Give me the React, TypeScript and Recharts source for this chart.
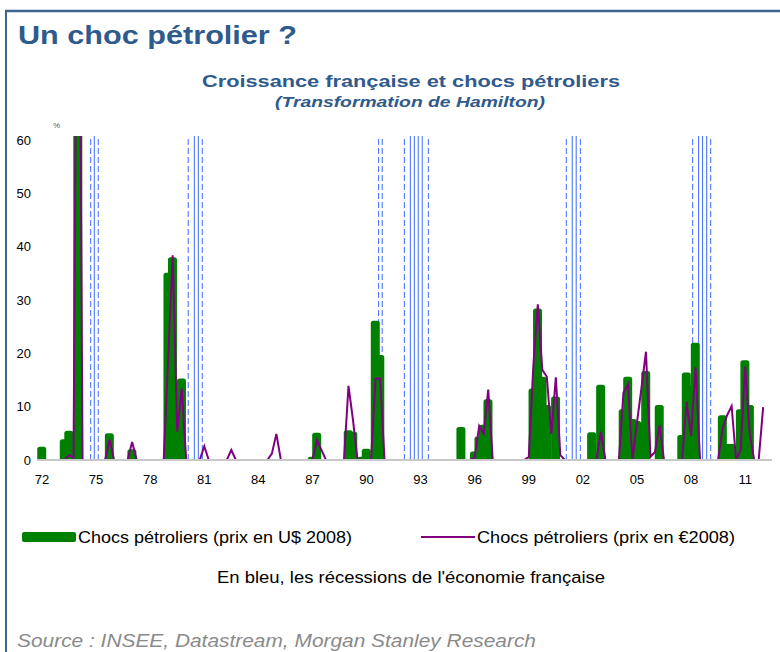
import React from "react";
import { ComposedChart, Bar, Line, XAxis, YAxis, ReferenceLine } from "recharts";

const startYear = 1972;

// Chocs pétroliers (prix en U$ 2008), trimestriel 1972T1 - 2012T1
const usdShocks = [
  2.5, 0, 0, 0, 0, 3.9, 5.5, 0, // 72-73
  80, 0, 0, 0, 0, 0, 0, 5.0, // 74-75
  0, 0, 0, 0, 2.0, 0, 0, 0, // 76-77
  0, 0, 0, 0, 35.1, 38.0, 10, 15.3, // 78-79
  0, 0, 0, 0, 0, 0, 0, 0, // 80-81
  0, 0, 0, 0, 0, 0, 0, 0, // 82-83
  0, 0, 0, 0, 0, 0, 0, 0, // 84-85
  0, 0, 0, 0, 0.6, 5.1, 0, 0, // 86-87
  0, 0, 0, 0, 5.6, 5.3, 0, 0.6, // 88-89
  2.1, 0, 26.1, 19.7, 0, 0, 0, 0, // 90-91
  0, 0, 0, 0, 0, 0, 0, 0, // 92-93
  0, 0, 0, 0, 0, 6.2, 0, 0, // 94-95
  1.6, 4.4, 6.6, 11.4, 0, 0, 0, 0, // 96-97
  0, 0, 0, 0, 0, 13.4, 28.4, 15.6, // 98-99
  10.3, 0, 11.9, 0, 0, 0, 0, 0, // 00-01
  0, 0, 5.2, 0, 14.1, 0, 0, 0, // 02-03
  0, 9.5, 15.6, 7.7, 7.3, 7.0, 16.7, 0, // 04-05
  0, 10.3, 0, 0, 0, 0, 4.7, 16.4, // 06-07
  14, 22.0, 0, 0, 0, 0, 0, 8.4, // 08-09
  3.0, 3.0, 0, 9.5, 18.7, 10.3, 0, 0, // 10-11
  0, // 12
];

// Chocs pétroliers (prix en €2008)
const eurShocks = [
  0, 0, 0, 0, 0, 0, 0.9, 0.4, // 72-73
  140, 0, 0, 0, 0, 0, 0, 3.8, // 74-75
  0, 0, 0, 0, 3.4, 0, 0, 0, // 76-77
  0, 0, 0, 0, 19.2, 38.4, 5.3, 13.4, // 78-79
  0, 0, 0, 0, 2.6, 0, 0, 0, // 80-81
  0, 0, 1.9, 0, 0, 0, 0, 0, // 82-83
  0, 0, 0, 1.2, 4.9, 0, 0, 0, // 84-85
  0, 0, 0, 0, 0, 3.7, 1.9, 0, // 86-87
  0, 0, 0, 0, 13.9, 7.5, 0, 0, // 88-89
  0, 0, 15.3, 15.3, 0, 0, 0, 0, // 90-91
  0, 0, 0, 0, 0, 0, 0, 0, // 92-93
  0, 0, 0, 0, 0, 0, 0, 0, // 94-95
  0.5, 6.4, 5.0, 13.2, 0, 0, 0, 0, // 96-97
  0, 0, 0, 0, 0.6, 17.5, 29.2, 16.9, // 98-99
  15.6, 4.9, 15.5, 0.9, 0, 0, 0, 0, // 00-01
  0, 0, 0, 0, 5.3, 0, 0, 0, // 02-03
  0, 12.6, 14.2, 0, 7.0, 13.5, 20.3, 0.6, // 04-05
  1.5, 6.5, 0, 0, 0, 0, 0, 10.9, // 06-07
  4.5, 17.4, 0, 0, 0, 0, 0, 5.9, // 08-09
  8.4, 10.1, 0, 1.9, 17.5, 5.0, 0, 0, // 10-11
  9.9, // 12
];

// récessions de l'économie française (bords des trimestres, en années)
const recessions = [
  [1974.7, 1974.9, 1975.12],
  [1980.11, 1980.45, 1980.67, 1980.89],
  [1990.67, 1990.87],
  [1992.1, 1992.43, 1992.65, 1992.87, 1993.09, 1993.43],
  [2001.08, 2001.41, 2001.63, 2001.86],
  [2008.09, 2008.42, 2008.64, 2008.87, 2009.09],
];

const yearTicks = [1972, 1975, 1978, 1981, 1984, 1987, 1990, 1993, 1996, 1999, 2002, 2005, 2008, 2011];
const valueTicks = [0, 10, 20, 30, 40, 50, 60];

const data = eurShocks.map((eur, i) => ({
  t: startYear + i / 4,
  usd: usdShocks[i] ?? 0,
  eur,
}));

const GREEN = "#008000";
const PURPLE = "#800080";
const BLUE = "#3d6bff";
const NAVY = "#2f5a8c";
const FONT = "'Liberation Sans', Arial, sans-serif";

// wide rounded column, centred on the slot the library gives
const ShockBar = (props: any) => {
  const { x, y, width, height } = props;
  if (!height || height <= 0) return null;
  const cx = x + width / 2;
  const w = 9;
  const r = 2.5;
  const l = cx - w / 2;
  const rt = cx + w / 2;
  const b = y + height;
  const d = `M${l},${b} L${l},${y + r} Q${l},${y} ${l + r},${y} L${rt - r},${y} Q${rt},${y} ${rt},${y + r} L${rt},${b} Z`;
  return <path d={d} fill={GREEN} />;
};

export default function App() {
  return (
    <div
      style={{
        position: "fixed",
        left: 0,
        top: 0,
        width: 780,
        height: 652,
        overflow: "hidden",
        background: "#fff",
        fontFamily: FONT,
      }}
    >
      <svg width={780} height={652} style={{ position: "absolute", left: 0, top: 0 }}>
        <line x1={5} y1={11} x2={780} y2={11} stroke="#3d6590" strokeWidth={2.5} />
        <line x1={6} y1={10} x2={6} y2={652} stroke="#3d6590" strokeWidth={2} />
        <text x={18} y={44} fontSize={26} fontWeight="bold" fill={NAVY} fontFamily={FONT} textLength={279} lengthAdjust="spacingAndGlyphs">
          Un choc pétrolier ?
        </text>
        <text x={202} y={87} fontSize={16} fontWeight="bold" fill={NAVY} fontFamily={FONT} textLength={418} lengthAdjust="spacingAndGlyphs">
          Croissance française et chocs pétroliers
        </text>
        <text x={275} y={107} fontSize={14} fontWeight="bold" fontStyle="italic" fill={NAVY} fontFamily={FONT} textLength={270} lengthAdjust="spacingAndGlyphs">
          (Transformation de Hamilton)
        </text>
        <text x={53} y={128} fontSize={8} fill="#555" fontFamily={FONT}>%</text>

        <rect x={22} y={532} width={54} height={10} rx={2} fill={GREEN} />
        <text x={78} y={543} fontSize={16} fill="#000" fontFamily={FONT} textLength={274} lengthAdjust="spacingAndGlyphs">
          Chocs pétroliers (prix en U$ 2008)
        </text>
        <line x1={421} y1={537} x2={475} y2={537} stroke={PURPLE} strokeWidth={2} />
        <text x={477} y={543} fontSize={16} fill="#000" fontFamily={FONT} textLength={258} lengthAdjust="spacingAndGlyphs">
          Chocs pétroliers (prix en €2008)
        </text>
        <text x={217} y={583} fontSize={16} fill="#000" fontFamily={FONT} textLength={388} lengthAdjust="spacingAndGlyphs">
          En bleu, les récessions de l'économie française
        </text>
        <text x={17} y={647} fontSize={18} fontStyle="italic" fill="#8a8a8a" fontFamily={FONT} textLength={519} lengthAdjust="spacingAndGlyphs">
          Source : INSEE, Datastream, Morgan Stanley Research
        </text>
      </svg>

      <div style={{ position: "absolute", left: 0, top: 0 }}>
        <ComposedChart width={780} height={500} data={data} margin={{ top: 136, right: 8, bottom: 10, left: 7 }}>
          <XAxis
            type="number"
            dataKey="t"
            domain={[1971.723, 2012.49]}
            ticks={yearTicks}
            interval={0}
            tickFormatter={(v: number) => String(v).slice(2)}
            tickLine={false}
            tickMargin={9}
            height={30}
            axisLine={{ stroke: "#c8c8c8", strokeWidth: 2 }}
            tick={{ fontSize: 13, fill: "#000", fontFamily: FONT }}
          />
          <YAxis
            domain={[0, 60.75]}
            ticks={valueTicks}
            allowDataOverflow
            width={30}
            axisLine={false}
            tickLine={false}
            tickMargin={0}
            tick={{ fontSize: 13, fill: "#000", fontFamily: FONT }}
          />
          {recessions.flatMap((edges, r) =>
            edges.map((t, k) => {
              const outer = k === 0 || k === edges.length - 1;
              return (
                <ReferenceLine
                  key={`r${r}-${k}`}
                  x={t}
                  stroke={BLUE}
                  strokeWidth={1}
                  strokeDasharray={outer ? "6 3" : undefined}
                  zIndex={-10}
                />
              );
            })
          )}
          <Bar dataKey="usd" barSize={4} shape={ShockBar} isAnimationActive={false} />
          <Line
            type="linear"
            dataKey="eur"
            stroke={PURPLE}
            strokeWidth={2}
            dot={false}
            activeDot={false}
            isAnimationActive={false}
          />
        </ComposedChart>
      </div>
    </div>
  );
}
